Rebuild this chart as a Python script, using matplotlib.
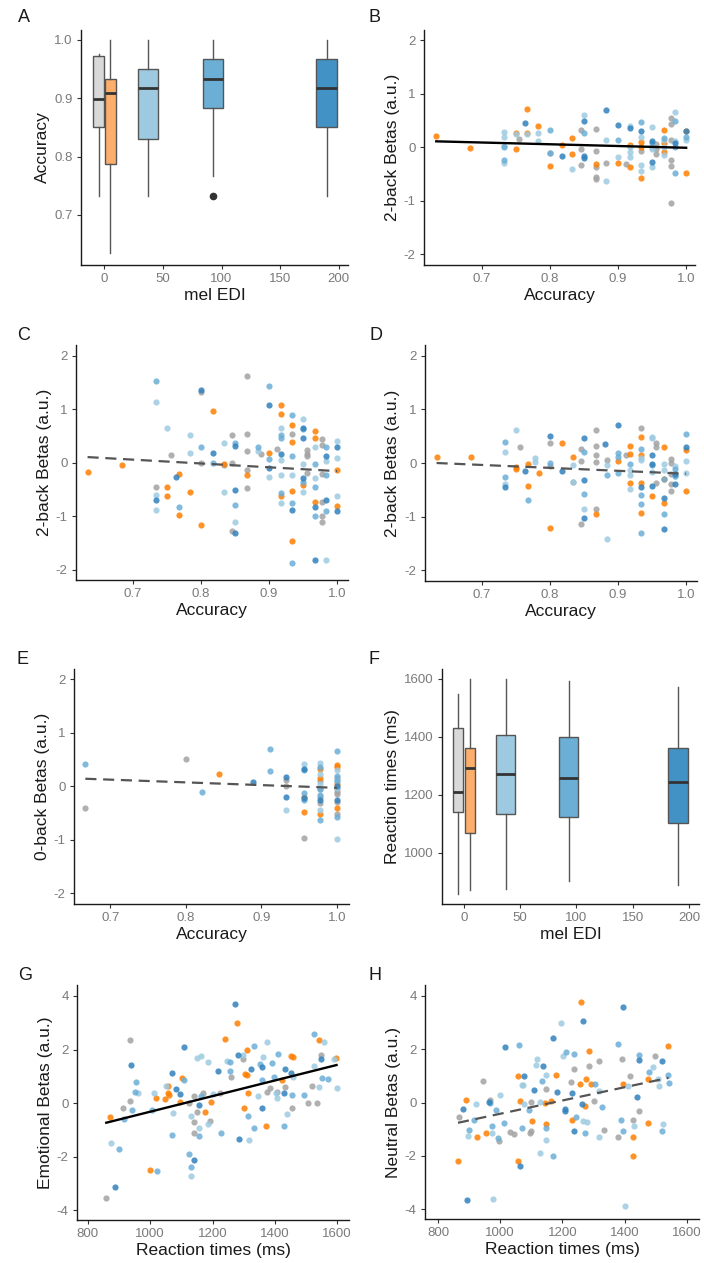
import numpy as np
import matplotlib
matplotlib.use("Agg")
import matplotlib.pyplot as plt

plt.rcParams['font.family'] = ['Liberation Sans', 'DejaVu Sans']
plt.rcParams['axes.unicode_minus'] = False

# group colours (box fill / dot colour)
group_names = ['ctrl', 'mel0', 'mel37', 'mel93', 'mel190']
box_colors = ['#d9d9d9', '#fdae6b', '#9ecae1', '#6baed6', '#4292c6']
dot_colors = ['#a3a3a3', '#ff7f00', '#9ecae1', '#6baed6', '#3182bd']

# ---- box plot summaries ----
box_pos = [-5, 5, 37, 93, 190]
box_width = [9, 9, 17, 17, 18]

acc_q1 = [0.850, 0.787, 0.830, 0.883, 0.850]
acc_med = [0.898, 0.909, 0.917, 0.933, 0.917]
acc_q3 = [0.973, 0.933, 0.950, 0.967, 0.967]
acc_lo = [0.733, 0.634, 0.733, 0.767, 0.733]
acc_hi = [0.976, 1.0, 1.0, 1.0, 1.0]
acc_fliers = [[], [], [], [0.733], []]

rt_q1 = [1140, 1070, 1134, 1125, 1102]
rt_med = [1211, 1292, 1272, 1257, 1246]
rt_q3 = [1430, 1362, 1405, 1399, 1360]
rt_lo = [859, 873, 875, 902, 888]
rt_hi = [1549, 1600, 1598, 1591, 1571]

# ---- scatter data: (accuracy or RT, beta) per group ----
b_gray = [(0.755, 0.16), (0.8, -0.1), (0.845, 0.32), (0.845, -0.04), (0.845, -0.34), (0.867, 0.34),
          (0.867, -0.07), (0.867, -0.36), (0.867, -0.55), (0.867, -0.6), (0.883, -0.29), (0.911, -0.31),
          (0.933, -0.07), (0.95, 0.0), (0.955, 0.06), (0.955, -0.03), (0.955, -0.13), (0.978, 0.55),
          (0.978, 0.44), (0.978, 0.14), (0.978, -0.24), (0.978, -0.35), (0.978, -1.04)]
b_orange = [(0.633, 0.21), (0.683, -0.02), (0.75, 0.27), (0.75, -0.04), (0.767, 0.72), (0.767, 0.27),
            (0.783, 0.39), (0.8, -0.35), (0.817, 0.05), (0.833, 0.17), (0.833, -0.12), (0.867, -0.32),
            (0.9, -0.29), (0.917, 0.04), (0.917, -0.36), (0.933, 0.1), (0.933, 0.0), (0.933, -0.57),
            (0.967, 0.32), (0.967, 0.07), (0.967, -0.09), (1.0, 0.3), (1.0, -0.49)]
b_light = [(0.733, 0.29), (0.733, 0.19), (0.733, 0.03), (0.733, -0.3), (0.75, 0.24), (0.767, 0.24),
           (0.783, 0.27), (0.783, 0.11), (0.833, -0.4), (0.85, 0.6), (0.883, 0.13), (0.883, -0.63),
           (0.9, -0.18), (0.917, 0.39), (0.917, 0.0), (0.917, -0.09), (0.917, -0.18), (0.933, 0.19),
           (0.933, -0.34), (0.933, -0.45), (0.95, 0.38), (0.95, -0.03), (0.95, -0.37), (0.967, 0.13),
           (0.967, 0.0), (0.967, -0.15), (0.983, 0.66), (0.983, 0.11), (1.0, 0.13)]
b_mid = [(0.733, 0.0), (0.733, -0.23), (0.8, 0.33), (0.8, -0.1), (0.85, 0.26), (0.9, 0.13), (0.933, 0.47),
         (0.95, 0.08), (0.967, 0.18), (0.983, 0.49), (0.983, 0.0), (0.983, -0.48), (1.0, 0.19)]
b_dark = [(0.763, 0.45), (0.817, -0.16), (0.85, 0.49), (0.85, -0.16), (0.85, -0.2), (0.883, 0.69),
          (0.9, 0.41), (0.917, 0.35), (0.933, 0.3), (0.95, 0.11), (0.95, -0.28), (1.0, 0.3), (0.983, 0.07)]

c_gray = [(0.733, -0.46), (0.755, 0.15), (0.8, 1.33), (0.8, -0.01), (0.833, -0.04), (0.845, 0.51),
          (0.845, 0.0), (0.845, -1.28), (0.867, 1.63), (0.867, 0.54), (0.867, 0.22), (0.867, -0.13),
          (0.867, -0.47), (0.888, 0.17), (0.911, 0.26), (0.933, 0.54), (0.955, 0.24), (0.955, 0.16),
          (0.955, 0.12), (0.955, -0.2), (0.978, 0.44), (0.978, 0.33), (0.978, -0.21), (0.978, -0.74),
          (0.978, -1.0), (0.978, -1.11)]
c_orange = [(0.633, -0.18), (0.683, -0.04), (0.75, -0.45), (0.75, -0.62), (0.767, -0.21), (0.767, -0.98),
            (0.783, -0.54), (0.8, -1.16), (0.817, 0.96), (0.833, -0.02), (0.867, -0.22), (0.9, 0.18),
            (0.917, 1.07), (0.917, 0.91), (0.917, -0.63), (0.933, 0.7), (0.933, 0.39), (0.933, -0.52),
            (0.933, -1.46), (0.95, -0.41), (0.967, 0.6), (0.967, 0.46), (0.967, -0.73), (1.0, -0.14),
            (1.0, -0.8)]
c_light = [(0.733, 1.13), (0.733, -0.6), (0.733, -0.88), (0.75, 0.65), (0.783, 0.52), (0.783, 0.19),
           (0.833, 0.37), (0.833, -0.55), (0.85, -1.1), (0.883, 0.22), (0.9, -0.26), (0.917, 0.65),
           (0.917, 0.06), (0.917, -0.22), (0.917, -0.75), (0.933, -0.22), (0.95, 0.82), (0.95, -0.02),
           (0.95, -0.55), (0.967, 0.3), (0.967, -0.29), (0.983, 0.04), (0.983, -1.81), (1.0, 0.41),
           (1.0, 0.09), (1.0, -0.62)]
c_mid = [(0.733, 1.53), (0.767, -0.82), (0.8, 0.29), (0.817, 0.0), (0.85, 0.37), (0.85, -0.79),
         (0.883, 0.29), (0.9, 1.44), (0.9, 0.07), (0.917, 0.52), (0.917, 0.46), (0.917, -0.57),
         (0.933, 0.9), (0.933, 0.13), (0.933, -0.75), (0.933, -1.87), (0.95, 0.63), (0.95, -0.35),
         (0.967, -0.02), (0.967, -0.46), (0.967, -1.0), (0.983, 0.29), (0.983, -0.22), (0.983, -0.9)]
c_dark = [(0.733, -0.7), (0.763, -0.27), (0.8, 1.36), (0.817, 0.18), (0.85, 0.32), (0.85, -0.5),
          (0.85, -1.31), (0.9, 1.07), (0.9, -0.09), (0.917, 0.16), (0.933, -0.88), (0.95, 0.65),
          (0.95, 0.46), (0.95, -0.29), (0.967, -0.83), (0.967, -1.81), (0.983, 0.12), (0.983, -0.7),
          (1.0, 0.29), (1.0, -0.91)]

d_gray = [(0.755, 0.29), (0.8, 0.37), (0.8, -0.05), (0.833, -0.36), (0.845, 0.27), (0.845, 0.03),
          (0.845, -1.13), (0.867, 0.62), (0.867, 0.31), (0.867, 0.14), (0.867, 0.02), (0.867, -0.86),
          (0.883, 0.06), (0.911, 0.14), (0.933, 0.66), (0.955, 0.37), (0.955, 0.29), (0.955, -0.37),
          (0.978, 0.07), (0.978, 0.0), (0.978, -0.21), (0.978, -0.39), (0.978, -0.52)]
d_orange = [(0.633, 0.11), (0.683, 0.11), (0.75, -0.07), (0.75, -0.12), (0.767, -0.02), (0.767, -0.43),
            (0.783, -0.19), (0.8, -1.22), (0.817, 0.37), (0.833, 0.12), (0.867, -0.95), (0.9, 0.03),
            (0.917, 0.31), (0.917, 0.16), (0.917, -0.38), (0.933, 0.49), (0.933, 0.14), (0.933, -0.38),
            (0.933, -0.94), (0.95, -0.62), (0.967, 0.29), (0.967, -0.29), (0.967, -0.75), (1.0, 0.24),
            (1.0, -0.52)]
d_light = [(0.733, 0.2), (0.733, -0.39), (0.75, 0.61), (0.778, 0.09), (0.778, 0.01), (0.833, -0.04),
           (0.833, -0.36), (0.85, -0.85), (0.883, -0.04), (0.883, -1.42), (0.917, -0.13), (0.917, -0.22),
           (0.917, -0.49), (0.933, 0.09), (0.933, 0.06), (0.95, 0.49), (0.95, 0.46), (0.95, -0.17),
           (0.967, -0.02), (0.967, -0.13), (0.983, -0.05), (0.983, -0.25), (1.0, 0.04), (1.0, -0.18)]
d_mid = [(0.733, 0.4), (0.733, -0.26), (0.767, -0.69), (0.8, 0.0), (0.85, 0.21), (0.85, -0.58),
         (0.883, -0.22), (0.9, 0.19), (0.9, 0.12), (0.9, -0.18), (0.917, -0.02), (0.933, 0.26),
         (0.933, -0.6), (0.933, -0.77), (0.933, -1.31), (0.95, -0.04), (0.967, -0.29), (0.967, -0.96),
         (0.983, -0.12), (0.983, -0.24), (1.0, 0.54)]
d_dark = [(0.733, -0.45), (0.763, -0.14), (0.8, 0.5), (0.817, -0.14), (0.85, 0.46), (0.85, -0.32),
          (0.85, -1.03), (0.88, 0.36), (0.9, 0.7), (0.933, -0.44), (0.95, 0.14), (0.95, -0.02),
          (0.95, -0.42), (0.967, -0.66), (0.967, -1.23), (0.983, -0.21), (0.983, -0.4), (1.0, 0.29)]

e_gray = [(0.667, -0.4), (0.8, 0.51), (0.933, 0.11), (0.933, 0.0), (0.956, -0.97), (0.978, 0.1),
          (0.978, -0.05), (0.978, -0.2), (0.978, -0.32), (1.0, 0.15), (1.0, -0.1), (1.0, -0.15),
          (1.0, -0.3), (1.0, -0.51), (1.0, -0.05)]
e_orange = [(0.844, 0.23), (0.956, -0.2), (0.956, -0.49), (0.978, 0.33), (0.978, 0.15), (0.978, -0.51),
            (1.0, 0.4), (1.0, 0.36), (1.0, 0.05), (1.0, -0.41)]
e_light = [(0.933, -0.44), (0.956, 0.41), (0.978, 0.43), (0.978, 0.22), (0.978, -0.44), (1.0, 0.3),
           (1.0, 0.12), (1.0, -0.03), (1.0, -0.99), (0.978, 0.05)]
e_mid = [(0.667, 0.41), (0.822, -0.1), (0.911, 0.69), (0.911, 0.28), (0.956, 0.3), (0.956, -0.12),
         (0.956, -0.26), (0.978, 0.35), (0.978, -0.06), (0.978, -0.16), (0.978, -0.63), (1.0, 0.66),
         (1.0, 0.2), (1.0, -0.57), (1.0, 0.1)]
e_dark = [(0.889, 0.08), (0.933, 0.18), (0.933, -0.21), (0.956, 0.33), (1.0, -0.26), (0.978, -0.25),
          (1.0, 0.0), (0.956, -0.22)]

g_gray = [(859, -3.54), (914, -0.2), (936, 2.36), (934, 0.09), (1123, -0.01), (1139, -0.7), (1141, -1.11),
          (1139, 0.26), (1149, -0.32), (1171, 0.39), (1192, -0.66), (1224, 0.39), (1258, 0.98), (1299, 1.63),
          (1374, 0.42), (1384, 0.55), (1406, 0.42), (1434, 0.61), (1456, -0.2), (1505, -0.01), (1520, 0.65),
          (1534, -0.01), (1547, 1.79)]
g_orange = [(872, -0.51), (998, -2.5), (1018, 0.2), (1046, 0.14), (1056, 0.65), (1058, 0.36), (1061, 0.3),
            (1096, 0.05), (1103, 0.92), (1176, -0.35), (1195, 0.05), (1240, 2.38), (1280, 2.98), (1304, 1.08),
            (1310, 1.05), (1312, 2.0), (1313, 0.36), (1302, -0.17), (1372, -0.85), (1422, 0.86), (1452, 1.76),
            (1459, 1.73), (1541, 2.36), (1596, 1.67)]
g_light = [(875, -1.51), (961, 0.36), (1013, 0.36), (1051, 0.65), (1072, -0.36), (1131, -2.72), (1131, -0.47),
           (1158, -0.95), (1149, 1.67), (1163, 1.76), (1187, 1.55), (1187, -0.8), (1203, 0.32), (1248, 1.58),
           (1297, 1.79), (1318, -1.38), (1345, 0.26), (1363, 1.73), (1374, 2.27), (1404, 0.36), (1406, 0.17),
           (1438, -0.41), (1457, 0.98), (1527, 1.4), (1541, 0.59), (1557, 2.29), (1590, 1.64), (1598, 0.55)]
g_mid = [(900, -1.7), (916, -0.6), (941, -0.26), (955, 0.8), (952, 0.42), (1005, -0.26), (1071, -1.2),
         (1109, 0.86), (1123, -1.91), (1131, -2.38), (1155, -1.23), (1023, -2.53), (1163, 0.26), (1226, -1.11),
         (1256, 1.55), (1256, 1.21), (1315, -0.49), (1333, 2.14), (1334, -0.95), (1352, 1.45), (1358, 0.86),
         (1392, 1.51), (1397, 0.96), (1411, 1.83), (1429, -0.86), (1454, 0.3), (1493, 0.3), (1527, 2.57),
         (1552, 0.92), (1571, 0.9)]
g_dark = [(888, -3.15), (939, 1.42), (1071, 1.13), (1082, 0.52), (1096, 0.34), (1110, 2.08), (1141, -2.13),
          (1158, -0.07), (1219, 1.2), (1272, 3.69), (1281, 1.79), (1285, -1.35), (1322, 1.26), (1358, 1.33),
          (1358, -0.2), (1429, 0.39), (1432, 1.27), (1452, 1.11), (1547, 1.64)]

h_gray = [(866, -0.54), (945, 0.82), (966, 0.11), (995, -1.45), (1030, -1.1), (1043, -1.17), (1100, 0.02),
          (1097, -1.13), (1100, -1.05), (1147, 0.49), (1238, 1.27), (1228, 0.77), (1284, 1.38), (1300, 0.05),
          (1316, 1.57), (1334, -1.03), (1380, -1.3), (1391, 1.64), (1416, 0.98), (1426, -0.64), (1447, -0.3),
          (1496, 1.76)]
h_orange = [(864, -2.19), (891, 0.11), (925, -1.28), (955, -1.16), (1056, 0.98), (1064, 0.07), (1057, -2.19),
            (1102, -0.7), (1143, -0.01), (1147, -0.8), (1163, 0.07), (1179, 1.05), (1230, -0.64), (1260, 3.76),
            (1255, 0.71), (1271, -0.14), (1275, 0.88), (1284, 1.94), (1292, 0.71), (1396, 0.7), (1426, -2.01),
            (1428, -1.3), (1475, 0.88), (1475, -0.76), (1539, 2.11)]
h_light = [(896, -1.26), (922, -0.07), (973, -1.16), (977, -3.63), (998, 0.27), (1070, 0.65), (1073, 0.65),
           (1077, -0.07), (1118, 1.64), (1115, 1.42), (1129, 0.02), (1129, -1.88), (1148, 1.05), (1148, -1.42),
           (1196, 3.0), (1201, 1.73), (1266, -0.7), (1279, -0.74), (1316, 0.45), (1316, -1.3), (1400, -3.88),
           (1412, 0.61), (1431, -0.88), (1491, 1.33), (1507, 0.88), (1511, 0.61), (1523, -0.8)]
h_mid = [(899, -1.03), (915, -0.67), (966, -0.01), (973, -0.88), (987, -0.29), (992, -1.32), (1011, -0.76),
         (1061, 2.14), (1070, -0.95), (1091, -0.29), (1134, 0.8), (1148, -0.95), (1171, -2.01), (1212, 1.88),
         (1238, 1.83), (1244, -0.54), (1273, -1.16), (1305, 0.71), (1327, -0.16), (1380, 2.21), (1389, -0.64),
         (1396, -1.05), (1445, 1.79), (1477, 1.13), (1519, -1.07), (1539, 1.02), (1541, 0.74)]
h_dark = [(880, -0.26), (893, -3.65), (965, 0.02), (1014, 2.08), (1062, -2.38), (1075, 1.0), (1107, 0.46),
          (1137, 1.36), (1169, 2.44), (1184, 0.4), (1209, -0.26), (1209, -0.3), (1230, 0.34), (1236, -1.05),
          (1266, 3.07), (1263, -0.07), (1396, 3.6), (1439, 0.2), (1445, 1.61), (1519, 1.57)]

# fitted lines: (intercept, slope, significant?)
fit_B = (0.317, -0.327, True)
fit_C = (0.558, -0.714, False)
fit_D = (0.345, -0.545, False)
fit_E = (0.48, -0.51, False)
fit_G = (-3.240, 0.002916, True)
fit_H = (-2.910, 0.002489, False)

W, H = 704, 1263
fig = plt.figure(figsize=(W / 100, H / 100), dpi=100)


def add_ax(l, t, r, b):
    return fig.add_axes([l / W, 1 - b / H, (r - l) / W, (b - t) / H])


def style(ax):
    for s in ['top', 'right']:
        ax.spines[s].set_visible(False)
    for s in ['left', 'bottom']:
        ax.spines[s].set_linewidth(1.0)
        ax.spines[s].set_color('#1a1a1a')
    ax.tick_params(length=3, width=0.8, color='#333333', labelsize=9.5,
                   labelcolor='#7a7a7a', pad=3)


def boxes(ax, q1, med, q3, lo, hi, fliers):
    stats = []
    for i in range(len(box_pos)):
        stats.append(dict(q1=q1[i], med=med[i], q3=q3[i], whislo=lo[i], whishi=hi[i],
                          fliers=fliers[i]))
    bp = ax.bxp(stats, positions=box_pos, widths=box_width, patch_artist=True,
                showcaps=False, manage_ticks=False,
                boxprops=dict(edgecolor='#555555', linewidth=1.0),
                medianprops=dict(color='#333333', linewidth=2.0),
                whiskerprops=dict(color='#555555', linewidth=1.0),
                flierprops=dict(marker='o', markerfacecolor='#333333', markeredgecolor='#333333',
                                markersize=4.5))
    for patch, c in zip(bp['boxes'], box_colors):
        patch.set_facecolor(c)
    ax.set_xticks([0, 50, 100, 150, 200])


def scatter(ax, groups, fit):
    xs_all = []
    for pts, c in zip(groups, dot_colors):
        x = [p[0] for p in pts]
        y = [p[1] for p in pts]
        xs_all += x
        ax.scatter(x, y, s=20, color=c, alpha=0.85, linewidths=0, zorder=2)
    b0, b1, sig = fit
    xl = np.array([min(xs_all), max(xs_all)])
    if sig:
        ax.plot(xl, b0 + b1 * xl, color='black', lw=1.7, zorder=3)
    else:
        ax.plot(xl, b0 + b1 * xl, color='#555555', lw=1.6, dashes=(5, 3), zorder=3)


lab_kw = dict(fontsize=12.5, color='#1a1a1a')

# A
axA = add_ax(81, 30, 348, 265)
boxes(axA, acc_q1, acc_med, acc_q3, acc_lo, acc_hi, acc_fliers)
axA.set_xlim(-20, 208)
axA.set_ylim(0.614, 1.017)
axA.set_yticks([0.7, 0.8, 0.9, 1.0])
axA.set_yticklabels(['0.7', '0.8', '0.9', '1.0'])
axA.set_xlabel('mel EDI', labelpad=2, **lab_kw)
axA.set_ylabel('Accuracy', labelpad=3, **lab_kw)
style(axA)

# F
axF = add_ax(442, 669, 699, 904)
boxes(axF, rt_q1, rt_med, rt_q3, rt_lo, rt_hi, [[], [], [], [], []])
axF.set_xlim(-19.6, 209)
axF.set_ylim(824, 1634)
axF.set_yticks([1000, 1200, 1400, 1600])
axF.set_xlabel('mel EDI', labelpad=2, **lab_kw)
axF.set_ylabel('Reaction times (ms)', labelpad=3, **lab_kw)
style(axF)

acc_ticks = [0.7, 0.8, 0.9, 1.0]
acc_labels = ['0.7', '0.8', '0.9', '1.0']
beta_ticks = [-2, -1, 0, 1, 2]

# B
axB = add_ax(424, 30, 695, 265)
scatter(axB, [b_gray, b_orange, b_light, b_mid, b_dark], fit_B)
axB.set_xlim(0.615, 1.013)
axB.set_ylim(-2.2, 2.19)
axB.set_ylabel('2-back Betas (a.u.)', labelpad=3, **lab_kw)

# C
axC = add_ax(76, 345, 348, 580)
scatter(axC, [c_gray, c_orange, c_light, c_mid, c_dark], fit_C)
axC.set_xlim(0.616, 1.016)
axC.set_ylim(-2.19, 2.2)
axC.set_ylabel('2-back Betas (a.u.)', labelpad=3, **lab_kw)

# D
axD = add_ax(425, 345, 697, 581)
scatter(axD, [d_gray, d_orange, d_light, d_mid, d_dark], fit_D)
axD.set_xlim(0.616, 1.016)
axD.set_ylim(-2.2, 2.2)
axD.set_ylabel('2-back Betas (a.u.)', labelpad=3, **lab_kw)

# E
axE = add_ax(74, 669, 349, 904)
scatter(axE, [e_gray, e_orange, e_light, e_mid, e_dark], fit_E)
axE.set_xlim(0.652, 1.016)
axE.set_ylim(-2.2, 2.19)
axE.set_ylabel('0-back Betas (a.u.)', labelpad=3, **lab_kw)

for ax in [axB, axC, axD, axE]:
    ax.set_xticks(acc_ticks)
    ax.set_xticklabels(acc_labels)
    ax.set_yticks(beta_ticks)
    ax.set_xlabel('Accuracy', labelpad=2, **lab_kw)
    style(ax)

# G
axG = add_ax(77, 985, 349, 1220)
scatter(axG, [g_gray, g_orange, g_light, g_mid, g_dark], fit_G)
axG.set_xlim(765, 1638)
axG.set_ylim(-4.37, 4.41)
axG.set_ylabel('Emotional Betas (a.u.)', labelpad=3, **lab_kw)

# H
axH = add_ax(425, 985, 699, 1219)
scatter(axH, [h_gray, h_orange, h_light, h_mid, h_dark], fit_H)
axH.set_xlim(758, 1639)
axH.set_ylim(-4.37, 4.41)
axH.set_ylabel('Neutral Betas (a.u.)', labelpad=3, **lab_kw)

for ax in [axG, axH]:
    ax.set_xticks([800, 1000, 1200, 1400, 1600])
    ax.set_yticks([-4, -2, 0, 2, 4])
    ax.set_xlabel('Reaction times (ms)', labelpad=2, **lab_kw)
    style(ax)

# panel letters
for letter, (px, py) in zip('ABCDEFGH', [(24, 18), (375, 18), (24, 336), (376, 336),
                                           (23, 659), (374, 659), (25, 975), (375, 975)]):
    fig.text(px / W, 1 - py / H, letter, fontsize=13, color='#1a1a1a',
             ha='center', va='center')

fig.savefig('out.png', dpi=100)
